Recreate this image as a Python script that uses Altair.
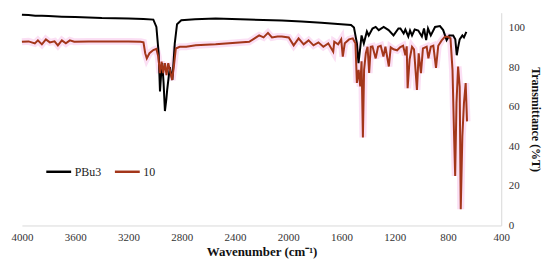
import altair as alt
import pandas as pd

# PBu3 spectrum (wavenumber cm-1, %T)
wn_pbu3 = [4000, 3950, 3900, 3850, 3800, 3700, 3600, 3500, 3400, 3300, 3200, 3087, 3013,
           2990, 2973, 2963, 2951, 2946, 2936, 2926, 2915, 2909, 2889, 2870, 2852, 2835,
           2803, 2700, 2545, 2300, 2048, 1900, 1751, 1602, 1528, 1506, 1484, 1472, 1462,
           1449, 1432, 1409, 1395, 1367, 1343, 1320, 1283, 1246, 1209, 1172, 1157, 1133,
           1120, 1098, 1085, 1070, 1050, 1023, 996, 980, 964, 950, 929, 897, 860, 836,
           810, 790, 761, 745, 734, 724, 712, 692, 680, 662]
t_pbu3 = [106.5, 106.3, 106.0, 105.9, 105.8, 105.5, 105.3, 105.1, 104.8, 104.7, 104.5, 104.3, 104.0,
          100.3, 87.0, 67.7, 80.0, 82.0, 72.0, 57.8, 64.0, 68.5, 80.0, 73.5, 92.0, 101.7,
          103.7, 104.2, 104.5, 104.0, 103.5, 103.0, 102.4, 101.7, 101.3, 100.0, 92.0, 82.0, 88.0,
          96.0, 92.0, 98.0, 96.0, 99.5, 100.3, 98.7, 100.3, 98.7, 96.0, 99.5, 99.5, 97.0,
          99.0, 95.5, 98.5, 96.0, 99.0, 98.5, 95.5, 99.5, 93.6, 99.5, 96.0, 100.3, 100.7, 98.7,
          93.6, 96.0, 96.0, 94.0, 86.0, 90.0, 94.0, 96.0, 95.0, 97.8]

# compound 10 spectrum
wn_10 = [4000, 3950, 3903, 3880, 3850, 3820, 3790, 3755, 3730, 3700, 3670, 3640, 3607,
         3500, 3384, 3200, 3109, 3087, 3074, 3062, 3042, 3013, 2990, 2976, 2963, 2951,
         2939, 2926, 2914, 2901, 2889, 2872, 2859, 2844, 2815, 2766, 2694, 2545, 2293,
         2218, 2185, 2152, 2122, 2080, 2048, 1996, 1959, 1922, 1884, 1847, 1810, 1773,
         1736, 1699, 1662, 1654, 1625, 1602, 1590, 1575, 1543, 1515, 1495, 1484, 1471,
         1459, 1449, 1439, 1430, 1417, 1404, 1392, 1380, 1367, 1343, 1325, 1305, 1285,
         1270, 1244, 1230, 1209, 1182, 1160, 1137, 1120, 1110, 1103, 1088, 1070, 1055,
         1033, 1020, 1003, 988, 960, 947, 929, 910, 890, 873, 847, 823, 798, 781, 766,
         754, 746, 736, 724, 712, 704, 692, 680, 667, 657]
t_10 = [92.8, 93.0, 92.0, 93.5, 91.5, 94.0, 92.5, 93.0, 91.0, 93.5, 92.0, 93.5, 92.8,
        93.0, 93.0, 93.0, 92.8, 92.5, 87.0, 84.4, 87.0, 88.6, 89.2, 85.3, 77.0, 82.8,
        77.0, 82.0, 76.0, 82.0, 78.6, 73.5, 80.3, 89.4, 90.3, 90.3, 91.0, 91.5, 92.8,
        96.0, 95.0, 97.3, 95.0, 95.5, 95.5, 95.0, 91.0, 94.5, 91.5, 93.5, 91.0, 92.5,
        90.3, 92.0, 87.8, 92.8, 91.5, 94.0, 85.3, 92.0, 94.0, 94.5, 92.0, 72.0, 78.6,
        70.2, 83.0, 44.5, 78.6, 87.0, 90.3, 77.0, 90.3, 90.5, 84.4, 90.3, 90.8, 85.3,
        90.3, 80.3, 90.0, 89.0, 88.5, 90.0, 90.8, 86.0, 90.5, 69.3, 84.0, 90.3, 89.0,
        68.5, 87.0, 77.0, 89.5, 90.3, 84.4, 90.3, 90.8, 79.6, 90.8, 93.5, 95.3, 95.3, 94.5, 78.6,
        45.0, 25.0, 61.8, 80.3, 70.0, 8.2, 45.0, 61.8, 71.9, 52.6]

series_names = ["PBu3", "10"]
series_colors = ["#000000", "#A3361A"]
x_ticks = [4000, 3600, 3200, 2800, 2400, 2000, 1600, 1200, 800, 400]
y_ticks = [0, 20, 40, 60, 80, 100]

df = pd.concat([
    pd.DataFrame({"wn": wn_pbu3, "T": t_pbu3, "series": "PBu3"}),
    pd.DataFrame({"wn": wn_10, "T": t_10, "series": "10"}),
])
df_10 = df[df["series"] == "10"]

FONT = "Liberation Serif"

x_enc = alt.X("wn:Q",
              scale=alt.Scale(domain=[4000, 400], nice=False, zero=False),
              axis=alt.Axis(values=x_ticks, format="d", title="Wavenumber (cm⁻¹)", grid=False,
                            ticks=False, domainColor="#d9d9d9", domainWidth=1,
                            labelFont=FONT, labelFontSize=11, labelColor="#333333",
                            labelPadding=6, labelFlush=False,
                            titleFont=FONT, titleFontSize=13, titleFontWeight="bold",
                            titleColor="#111111", titlePadding=3))
y_enc = alt.Y("T:Q",
              scale=alt.Scale(domain=[0, 107.5], nice=False, zero=True),
              axis=alt.Axis(values=y_ticks, format="d", orient="right", title="Transmittance (%T)",
                            grid=False, ticks=False, domainColor="#d9d9d9", domainWidth=1,
                            labelFont=FONT, labelFontSize=11, labelColor="#333333",
                            labelPadding=7, titleFont=FONT, titleFontSize=12,
                            titleFontWeight="bold", titleColor="#111111", titlePadding=4))

halo = alt.Chart(df_10).mark_line(strokeWidth=7, opacity=0.5, color="#f7c0ea").encode(
    x=x_enc, y=y_enc
)

lines = alt.Chart(df).mark_line(strokeWidth=2).encode(
    x=x_enc,
    y=y_enc,
    color=alt.Color("series:N",
                    scale=alt.Scale(domain=series_names, range=series_colors),
                    legend=alt.Legend(orient="none", legendX=23, legendY=146,
                                      direction="horizontal", title=None,
                                      symbolType="stroke", symbolSize=625,
                                      symbolStrokeWidth=2.5, labelFont=FONT,
                                      labelFontSize=12, labelColor="#222222",
                                      labelOffset=2, columnPadding=8)),
    order=alt.Order("wn:Q"),
)

chart = (halo + lines).properties(
    width=482, height=214,
    padding={"left": 0, "top": 1, "right": 0, "bottom": 0},
).configure_view(stroke=None)

chart.save("out.html", embed_options={"renderer": "svg", "actions": False})
